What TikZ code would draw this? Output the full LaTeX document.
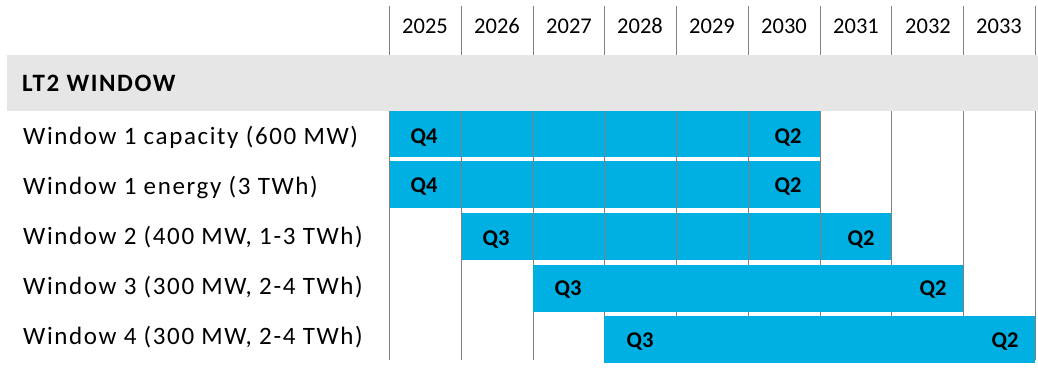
\documentclass[tikz,border=0pt]{standalone}
\usepackage{fontspec}
\setmainfont{Carlito}
\newfontfamily\labfont[LetterSpace=6.5]{Carlito}
\definecolor{barblue}{RGB}{0,176,226}
\definecolor{bandgray}{RGB}{230,230,230}
\definecolor{gridgray}{RGB}{128,128,128}
\begin{document}
\begin{tikzpicture}[x=1pt,y=-1pt,
  year/.style={anchor=base,font=\fontsize{22.5}{24}\selectfont,inner sep=0pt},
  rowlab/.style={anchor=base west,font=\labfont\fontsize{25}{27}\selectfont,inner sep=0pt},
  head/.style={anchor=base west,font=\labfont\bfseries\fontsize{25}{27}\selectfont,inner sep=0pt},
  qlab/.style={anchor=base,font=\bfseries\fontsize{22.5}{24}\selectfont,inner sep=0pt},
  bar/.style={fill=barblue,draw=none},
  grid/.style={draw=gridgray,line width=1.2pt}]
\useasboundingbox (0,0) rectangle (1038,372);
\fill[white] (0,0) rectangle (1038,372);
% bars of rows 1-3 (grid shows over them)
\fill[bar] (389,111) rectangle (820,157);
\fill[bar] (389,161) rectangle (820,208);
\fill[bar] (461,213) rectangle (892,260);
% grid lines
\foreach \x in {389.5,461.5,533.5,604.5,676.5,748.5,820.5,891.5,963.5,1035.5}
  \draw[grid] (\x,6) -- (\x,360);
% bars of rows 4-5 (cover grid)
\fill[bar] (533,265) rectangle (963,312);
\fill[bar] (604,316) rectangle (1035,363);
% header band
\fill[bandgray] (7,55) rectangle (1038,111);
\node[head] (hd) at (22,91) {LT2 WINDOW};
% years
\foreach \y/\x in {2025/425,2026/497,2027/569,2028/640,2029/712,2030/784,2031/856,2032/928,2033/999}
  \node[year] (y\y) at (\x,33) {\y};
% row labels
\node[rowlab] (l1) at (23,144.5) {Window 1 capacity (600 MW)};
\node[rowlab] (l2) at (23,194.5) {Window 1 energy (3 TWh)};
\node[rowlab] (l3) at (23,244.5) {Window 2 (400 MW, 1-3 TWh)};
\node[rowlab] (l4) at (23,294.5) {Window 3 (300 MW, 2-4 TWh)};
\node[rowlab] (l5) at (23,344.5) {Window 4 (300 MW, 2-4 TWh)};
% quarter labels
\node[qlab] (q1a) at (424,143.5) {Q4};
\node[qlab] (q1b) at (788,143.5) {Q2};
\node[qlab] (q2a) at (424,192) {Q4};
\node[qlab] (q2b) at (788,192) {Q2};
\node[qlab] (q3a) at (496,245) {Q3};
\node[qlab] (q3b) at (861,245) {Q2};
\node[qlab] (q4a) at (568,295) {Q3};
\node[qlab] (q4b) at (933,295) {Q2};
\node[qlab] (q5a) at (640,347) {Q3};
\node[qlab] (q5b) at (1005,347) {Q2};
\end{tikzpicture}
\end{document}
